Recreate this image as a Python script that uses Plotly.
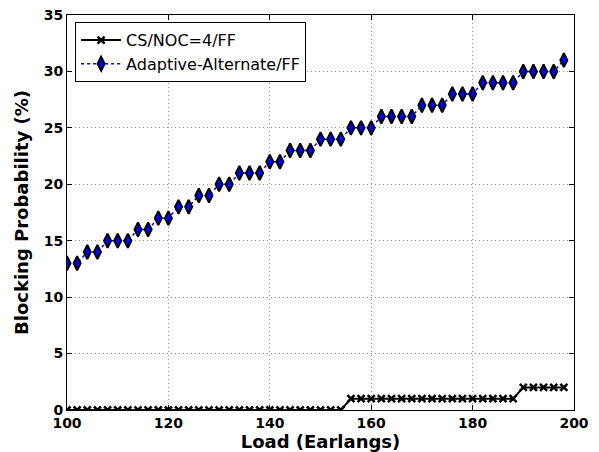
import plotly.graph_objects as go

load = list(range(100, 200, 2))
cs_noc = [0]*28 + [1]*17 + [2]*5
adaptive = [13, 13, 14, 14, 15, 15, 15, 16, 16, 17,
            17, 18, 18, 19, 19, 20, 20, 21, 21, 21,
            22, 22, 23, 23, 23, 24, 24, 24, 25, 25,
            25, 26, 26, 26, 26, 27, 27, 27, 28, 28,
            28, 29, 29, 29, 29, 30, 30, 30, 30, 31]

FONT = "DejaVu Sans"

fig = go.Figure()
fig.add_trace(go.Scatter(
    x=load, y=cs_noc, mode="lines+markers", name="CS/NOC=4/FF",
    line=dict(color="black", width=2),
    marker=dict(symbol="x-thin", size=7, color="black",
                line=dict(color="black", width=2.5)),
))
fig.add_trace(go.Scatter(
    x=load, y=adaptive, mode="lines+markers", name="Adaptive-Alternate/FF",
    line=dict(color="blue", width=1.5, dash="dot"),
    marker=dict(symbol="diamond-tall", size=10, color="blue",
                line=dict(color="black", width=2)),
))

axis_common = dict(
    showline=True, linecolor="black", linewidth=1, mirror="allticks",
    ticks="inside", ticklen=5, tickcolor="black",
    showgrid=True, gridcolor="#999999", griddash="1px,3px", gridwidth=1,
    zeroline=False, automargin=False,
    tickfont=dict(family=FONT, size=14, color="black", weight="bold"),
)

fig.update_xaxes(range=[100, 200], dtick=20, **axis_common,
                 title=dict(text="Load (Earlangs)", standoff=4,
                            font=dict(family=FONT, size=18, color="black", weight="bold")))
fig.update_yaxes(range=[0, 35], dtick=5, **axis_common,
                 title=dict(text="Blocking Probability (%)", standoff=10,
                            font=dict(family=FONT, size=18, color="black", weight="bold")))

fig.update_layout(
    width=599, height=452,
    margin=dict(l=67, r=25, t=15, b=42),
    paper_bgcolor="white", plot_bgcolor="white",
    showlegend=True,
    legend=dict(x=0.016, y=0.982, xanchor="left", yanchor="top",
                bgcolor="white", bordercolor="black", borderwidth=1,
                font=dict(family=FONT, size=16, color="black"),
                itemwidth=40),
)

fig.write_html("out.html")
